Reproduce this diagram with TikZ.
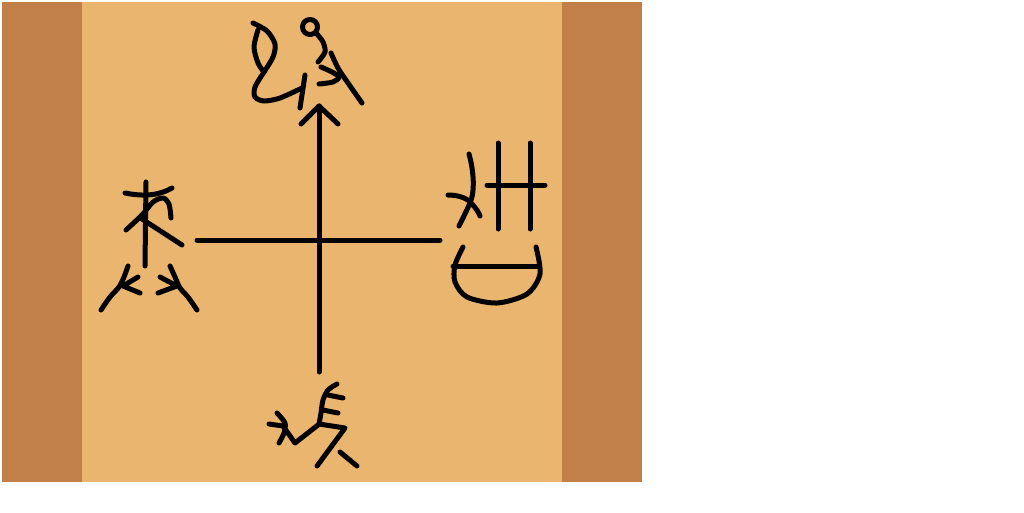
\documentclass[tikz,border=0pt]{standalone}
\usepackage{tikz}
\definecolor{woodedge}{RGB}{193,127,74}
\definecolor{woodmid}{RGB}{234,181,110}

\begin{document}
\begin{tikzpicture}[x=1pt, y=-1pt, glyph/.style = {line width=5pt, line cap=round, line join=round}]
    \useasboundingbox (0,0) rectangle (1024,512);
    \fill[woodedge] (2,2) rectangle (642,482);
    \fill[woodmid] (82,2) rectangle (562,482);
    % axes
    \coordinate (north) at (319,106);
    \coordinate (south) at (319,372);
    \coordinate (west) at (197,240);
    \coordinate (east) at (440,240);
    \draw[glyph] (south) -- (north);
    \draw[glyph] (west) -- (east);
    \draw[glyph] (301,124) -- (north) -- (338,124);
    % top glyph
    \draw[glyph] plot[smooth] coordinates {(253,23) (267,31) (275,44) (273,57) (264,72)};
    \draw[glyph] plot[smooth] coordinates {(258,30) (254,47) (258,63) (264,72)};
    \draw[glyph] plot[smooth] coordinates {(264,72) (255,87) (255,97) (264,101) (280,98) (302,88)};
    \draw[glyph] (305,75) -- (300,108);
    \draw[glyph] (310,27) circle (7.5);
    \draw[glyph] plot[smooth] coordinates {(317,34) (323,42) (325,52) (318,62)};
    \draw[glyph] plot[smooth] coordinates {(331,53) (338,68) (348,83) (362,103)};
    \draw[glyph] plot[smooth] coordinates {(321,67) (332,72) (339,77) (333,82) (319,84)};
    % left glyph
    \draw[glyph] (125,193) .. controls (145,197) and (160,195) .. (172,188);
    \draw[glyph] (146,182) -- (145,266);
    \draw[glyph] plot[smooth] coordinates {(126,230) (142,215) (153,202) (163,198) (169,204) (171,218)};
    \draw[glyph] (142,219) -- (182,245);
    \draw[glyph] plot[smooth] coordinates {(101,310) (110,297) (119,287) (124,277) (128,266)};
    \draw[glyph] (138,277) -- (123,286) -- (140,293);
    \draw[glyph] plot[smooth] coordinates {(197,310) (188,297) (180,288) (175,277) (170,266)};
    \draw[glyph] (160,277) -- (177,286) -- (158,293);
    % right glyph
    \draw[glyph] (469,154) .. controls (474,172) and (475,192) .. (470,203) .. controls (466,212) and (462,220) .. (459,226);
    \draw[glyph] (448,195) .. controls (456,195) and (466,197) .. (471,203) .. controls (476,208) and (479,213) .. (480,216);
    \draw[glyph] (498,143) -- (498,229);
    \draw[glyph] (530,143) -- (530,229);
    \draw[glyph] (487,185) -- (545,185);
    \draw[glyph] plot[smooth] coordinates {(463,247) (455,265) (455,282) (467,297) (497,303) (527,294) (540,274) (536,247)};
    \draw[glyph] (453,266) -- (539,266);
    % bottom glyph
    \draw[glyph] plot[smooth] coordinates {(277,413) (285,423) (284,433) (279,443)};
    \draw[glyph] (269,424) -- (283,426) -- (295,443) -- (318,425);
    \draw[glyph] plot[smooth] coordinates {(337,384) (328,390) (323,400) (321,413) (319,424)} -- (345,428) -- (317,466);
    \draw[glyph] (328,395) -- (343,398);
    \draw[glyph] (323,410) -- (338,413);
    \draw[glyph] (340,452) -- (357,466);
\end{tikzpicture}
\end{document}
